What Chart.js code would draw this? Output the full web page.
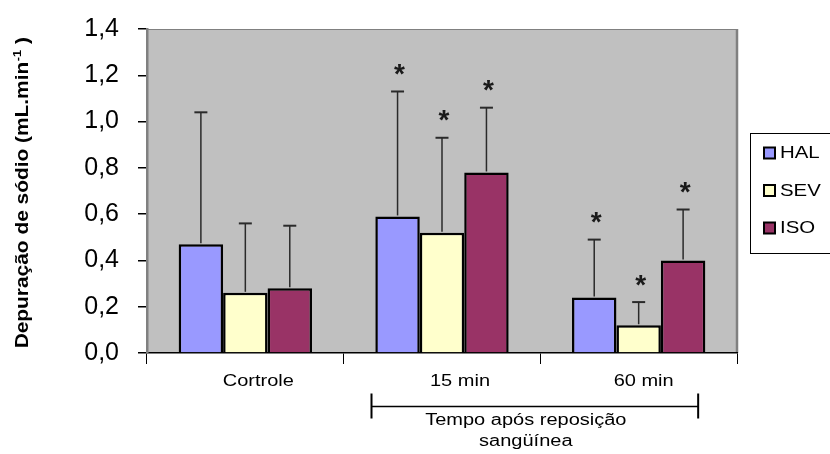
<!DOCTYPE html>
<html>
<head>
<meta charset="utf-8">
<script src="https://cdn.jsdelivr.net/npm/chart.js@4/dist/chart.umd.min.js"></script>
<style>
  html, body { margin: 0; padding: 0; background: #fff; }
  #wrap { width: 830px; height: 454px; position: relative; }
</style>
</head>
<body>
<div id="wrap"><canvas id="c" width="830" height="454"></canvas></div>
<script>
// Sodium clearance (mL/min) by anaesthetic group, mean and SD
const categories = ['Cortrole', '15 min', '60 min'];
const seriesNames = ['HAL', 'SEV', 'ISO'];
const halMean = [0.47, 0.59, 0.24];
const sevMean = [0.26, 0.52, 0.12];
const isoMean = [0.28, 0.78, 0.40];
const halSD = [0.57, 0.54, 0.25];
const sevSD = [0.30, 0.41, 0.10];
const isoSD = [0.27, 0.28, 0.22];
// significant difference vs. control (*)
const halSig = [false, true, true];
const sevSig = [false, true, true];
const isoSig = [false, true, true];
const yTicks = [0, 0.2, 0.4, 0.6, 0.8, 1.0, 1.2, 1.4];
const yTitle = 'Depuração de sódio (mL.min';
const yTitleSup = '-1';
const groupCaption = ['Tempo após reposição', 'sangüínea'];

const FONT = '"Liberation Sans", Arial, Helvetica, sans-serif';
const colors = ['#9999ff', '#ffffcc', '#993366'];
const means = [halMean, sevMean, isoMean];
const sds = [halSD, sevSD, isoSD];
const sigs = [halSig, sevSig, isoSig];

const datasets = seriesNames.map((name, i) => ({
  label: name,
  data: means[i],
  sd: sds[i],
  sig: sigs[i],
  backgroundColor: colors[i],
  borderColor: '#000',
  borderWidth: 2.5,
  borderSkipped: 'bottom',
  barPercentage: 1.0,
  categoryPercentage: 0.678
}));

// stretched text helper (horizontal scale along the text direction)
function drawText(ctx, text, x, y, font, sx, align) {
  ctx.save();
  ctx.font = font;
  ctx.translate(x, y);
  ctx.scale(sx, 1);
  ctx.textAlign = align || 'center';
  ctx.textBaseline = 'middle';
  ctx.fillStyle = '#000';
  ctx.fillText(text, 0, 0);
  ctx.restore();
}

const decorations = {
  id: 'decorations',
  beforeDraw(chart) {
    const { ctx, chartArea: a } = chart;
    ctx.save();
    ctx.fillStyle = '#c0c0c0';
    ctx.fillRect(a.left, a.top, a.right - a.left, a.bottom - a.top);
    ctx.strokeStyle = '#808080';
    ctx.lineWidth = 1;
    ctx.beginPath();
    ctx.moveTo(a.left, a.top + 0.5);
    ctx.lineTo(a.right, a.top + 0.5);
    ctx.stroke();
    ctx.lineWidth = 2.5;
    ctx.beginPath();
    ctx.moveTo(a.right, a.top);
    ctx.lineTo(a.right, a.bottom);
    ctx.stroke();
    ctx.restore();
  },
  afterDatasetsDraw(chart) {
    const { ctx } = chart;
    const y = chart.scales.y;
    ctx.save();
    chart.data.datasets.forEach((ds, i) => {
      const meta = chart.getDatasetMeta(i);
      meta.data.forEach((bar, j) => {
        const top = y.getPixelForValue(ds.data[j] + ds.sd[j]);
        ctx.strokeStyle = '#2a2a2a';
        ctx.lineWidth = 1.5;
        ctx.beginPath();
        ctx.moveTo(bar.x, bar.y - 1);
        ctx.lineTo(bar.x, top);
        ctx.stroke();
        ctx.lineWidth = 2;
        ctx.beginPath();
        ctx.moveTo(bar.x - 6.5, top);
        ctx.lineTo(bar.x + 6.5, top);
        ctx.stroke();
        if (ds.sig[j]) {
          ctx.font = 'bold 28px ' + FONT;
          ctx.textAlign = 'center';
          ctx.textBaseline = 'alphabetic';
          ctx.fillStyle = '#1a1a1a';
          const m = ctx.measureText('*');
          const cy = top - 22;
          ctx.fillText('*', bar.x + 2, cy + (m.actualBoundingBoxAscent - m.actualBoundingBoxDescent) / 2);
        }
      });
    });
    ctx.restore();
  },
  afterDraw(chart) {
    const { ctx } = chart;
    const x = chart.scales.x;
    const labelFont = '16px ' + FONT;
    const labelShift = [13, 18, 5];
    categories.forEach((c, i) => {
      drawText(ctx, c, x.getPixelForValue(i) + labelShift[i], 382, labelFont, 1.25);
    });

    // bracket under the post-reperfusion groups
    const bl = x.getPixelForValue(1) - 70.5;
    const br = x.getPixelForValue(2) + 59.5;
    ctx.save();
    ctx.strokeStyle = '#000';
    ctx.lineWidth = 1.5;
    ctx.beginPath();
    ctx.moveTo(bl, 406.5);
    ctx.lineTo(br, 406.5);
    ctx.stroke();
    ctx.lineWidth = 2;
    ctx.beginPath();
    ctx.moveTo(bl, 393.5); ctx.lineTo(bl, 418.5);
    ctx.moveTo(br, 393.5); ctx.lineTo(br, 418.5);
    ctx.stroke();
    ctx.restore();
    const bc = (bl + br) / 2 - 9;
    drawText(ctx, groupCaption[0], bc, 421, labelFont, 1.25);
    drawText(ctx, groupCaption[1], bc, 442, labelFont, 1.25);

    // legend
    ctx.save();
    ctx.strokeStyle = '#000';
    ctx.lineWidth = 1;
    ctx.strokeRect(750.5, 133.5, 120, 120);
    chart.data.datasets.forEach((ds, i) => {
      const cy = 153 + i * 37.5;
      ctx.fillStyle = ds.backgroundColor;
      ctx.fillRect(764, cy - 5.5, 11, 11);
      ctx.lineWidth = 2;
      ctx.strokeStyle = '#000';
      ctx.strokeRect(764, cy - 5.5, 11, 11);
      drawText(ctx, ds.label, 780, cy + 0.5, '17px ' + FONT, 1.2, 'left');
    });
    ctx.restore();

    // rotated y-axis title with superscript
    ctx.save();
    ctx.translate(28, 193);
    ctx.rotate(-Math.PI / 2);
    ctx.scale(1.16, 1);
    ctx.fillStyle = '#000';
    ctx.textBaseline = 'alphabetic';
    ctx.textAlign = 'left';
    const mainFont = 'bold 18px ' + FONT;
    const supFont = 'bold 11px ' + FONT;
    ctx.font = mainFont;
    const w1 = ctx.measureText(yTitle).width;
    const w3 = ctx.measureText(' )').width;
    ctx.font = supFont;
    const w2 = ctx.measureText(yTitleSup).width;
    let sx = -(w1 + w2 + w3) / 2;
    ctx.font = mainFont;
    ctx.fillText(yTitle, sx, 0);
    ctx.font = supFont;
    ctx.fillText(yTitleSup, sx + w1 + 0.5, -7);
    ctx.font = mainFont;
    ctx.fillText(' )', sx + w1 + w2 + 0.5, 0);
    ctx.restore();
  }
};

new Chart(document.getElementById('c'), {
  type: 'bar',
  data: { labels: categories, datasets },
  plugins: [decorations],
  options: {
    responsive: false,
    devicePixelRatio: 1,
    animation: false,
    layout: { padding: { left: 0, top: 29, right: 93, bottom: 0 } },
    plugins: { legend: { display: false }, tooltip: { enabled: false } },
    scales: {
      x: {
        offset: true,
        grid: { display: true, offset: true, drawOnChartArea: false, drawTicks: true, tickLength: 11, color: '#000', lineWidth: 1 },
        border: { display: true, color: '#000', width: 1.5 },
        ticks: { display: false },
        afterFit(scale) { scale.height = 101; }
      },
      y: {
        min: 0,
        max: 1.4,
        afterBuildTicks(scale) { scale.ticks = yTicks.map(v => ({ value: v })); },
        grid: { display: true, drawOnChartArea: false, drawTicks: true, tickLength: 9, color: '#000', lineWidth: 1.5 },
        border: { display: true, color: '#808080', width: 2.5 },
        ticks: {
          padding: 19,
          color: '#000',
          font: { family: FONT, size: 25 },
          callback: v => Number(v).toFixed(1).replace('.', ',')
        },
        afterFit(scale) {
          scale.width = 147;
          scale.paddingTop = 0;
          scale.paddingBottom = 0;
        }
      }
    }
  }
});
</script>
</body>
</html>
